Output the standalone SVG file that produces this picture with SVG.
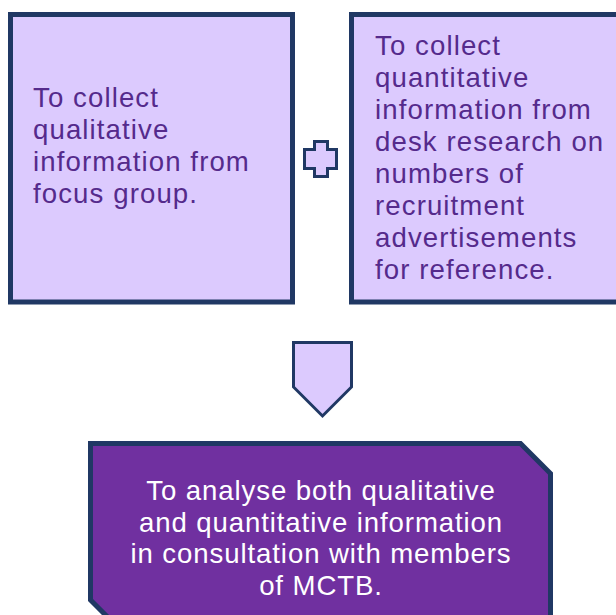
<svg xmlns="http://www.w3.org/2000/svg" width="616" height="615" viewBox="0 0 616 615">
<style>
.box{fill:#dccafe;stroke:#203864;stroke-width:5}
.sym{fill:#dccafe;stroke:#203864;stroke-width:3;stroke-linejoin:miter}
.t{font-family:"Liberation Sans",Arial,sans-serif;font-size:27.6px;letter-spacing:1.1px;fill:#552a8c}
.w{font-family:"Liberation Sans",Arial,sans-serif;font-size:27.6px;letter-spacing:0.9px;fill:#ffffff;text-anchor:middle}
</style>
<rect width="616" height="615" fill="#ffffff"/>
<g id="node-left">
<rect class="box" x="10.5" y="14.5" width="282" height="287.5"/>
<text class="t" x="33" y="107">To collect</text>
<text class="t" x="33" y="139">qualitative</text>
<text class="t" x="33" y="171">information from</text>
<text class="t" x="33" y="203">focus group.</text>
</g>
<g id="node-right">
<rect class="box" x="351.5" y="14.5" width="280" height="287.5"/>
<text class="t" x="375" y="55">To collect</text>
<text class="t" x="375" y="87">quantitative</text>
<text class="t" x="375" y="119">information from</text>
<text class="t" x="375" y="151">desk research on</text>
<text class="t" x="375" y="183">numbers of</text>
<text class="t" x="375" y="215">recruitment</text>
<text class="t" x="375" y="247">advertisements</text>
<text class="t" x="375" y="279">for reference.</text>
</g>
<g id="connectors">
<path id="plus" class="sym" d="M314.5,141.5 H327.5 V149.5 H336.5 V168.5 H327.5 V176.5 H314.5 V168.5 H304.5 V149.5 H314.5 Z"/>
<path id="arrow-down" class="sym" d="M293.5,342.5 H351.5 V387 L322.5,416 L293.5,387 Z"/>
</g>
<g id="node-bottom">
<path d="M90.5,443.5 H520.5 L550.5,473.5 V630 H120.5 L90.5,600 Z" fill="#7030a0" stroke="#203864" stroke-width="5"/>
<text class="w" x="321" y="500">To analyse both qualitative</text>
<text class="w" x="321" y="531.5">and quantitative information</text>
<text class="w" x="321" y="563">in consultation with members</text>
<text class="w" x="321" y="594.5">of MCTB.</text>
</g>
</svg>
